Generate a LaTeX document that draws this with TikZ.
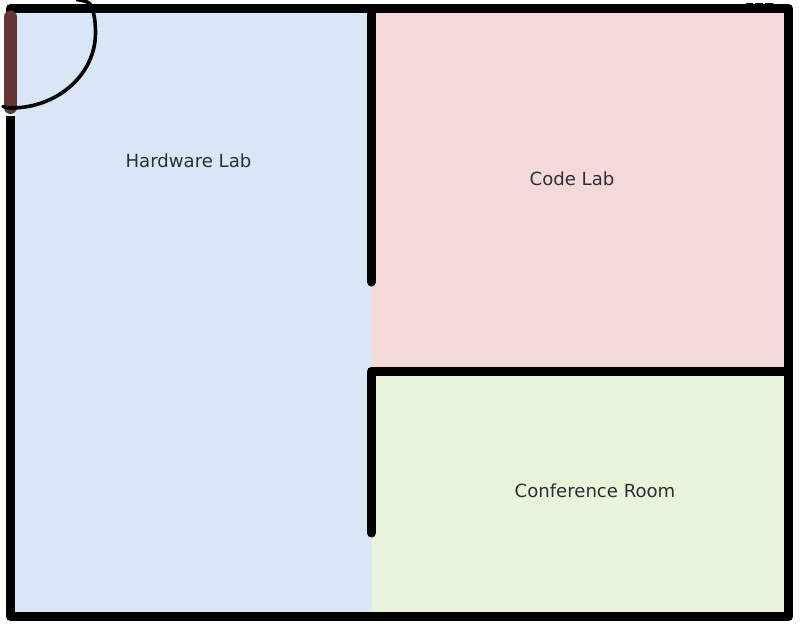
\documentclass[tikz,border=0pt]{standalone}
\usepackage{fontspec}
\setmainfont{DejaVu Sans}
\definecolor{hwfill}{HTML}{D8E6F6}
\definecolor{codefill}{HTML}{F5D9D9}
\definecolor{conffill}{HTML}{E8F5DA}
\definecolor{doorcol}{HTML}{663535}
\definecolor{labelcol}{HTML}{2B3033}
\tikzset{
  wall/.style={line width=9pt,black,line cap=round,line join=round},
  door/.style={line width=13pt,doorcol,line cap=round},
  swing/.style={line width=3.6pt,black,line cap=round},
  roomlabel/.style={text=labelcol,font=\fontsize{18.1pt}{22pt}\selectfont,inner sep=0pt},
  px/.style={x=1pt,y=-1pt}
}
\begin{document}
\begin{tikzpicture}[px]
\useasboundingbox[fill=white] (0,0) rectangle (800,630);
% rooms
\fill[hwfill] (10.5,8.5) rectangle (371.5,616.5);
\fill[codefill] (371.5,8.5) rectangle (788.5,371.5);
\fill[conffill] (371.5,371.5) rectangle (788.5,616.5);
% walls
\draw[wall] (10.5,116) -- (10.5,616.5) -- (788.5,616.5) -- (788.5,8.5) -- (10.5,8.5) -- (10.5,20);
\draw[wall] (371.5,8.5) -- (371.5,282);
\draw[wall] (371.5,533) -- (371.5,371.5) -- (788.5,371.5);
% small marks on the top wall
\fill[black] (746,3) rectangle (753,5) (755,3) rectangle (763,5) (765,3) rectangle (773,5);
% door
\fill[white] (6,110) rectangle (15,115.5);
\draw[door] (10.5,17) -- (10.5,107.5);
\draw[swing] (3,106.5) .. controls (5,107.5) and (8,108) .. (11,108)
  .. controls (58,108) and (95.5,74) .. (95.5,33)
  .. controls (95.5,21) and (94,11) .. (90,4)
  .. controls (88,1.5) and (83,0.5) .. (77,-0.5);
% labels
\node[roomlabel] (hw) at (188.5,160.5) {Hardware Lab};
\node[roomlabel] (code) at (572,178.5) {Code Lab};
\node[roomlabel] (conf) at (595,490.5) {Conference Room};
\end{tikzpicture}
\end{document}
